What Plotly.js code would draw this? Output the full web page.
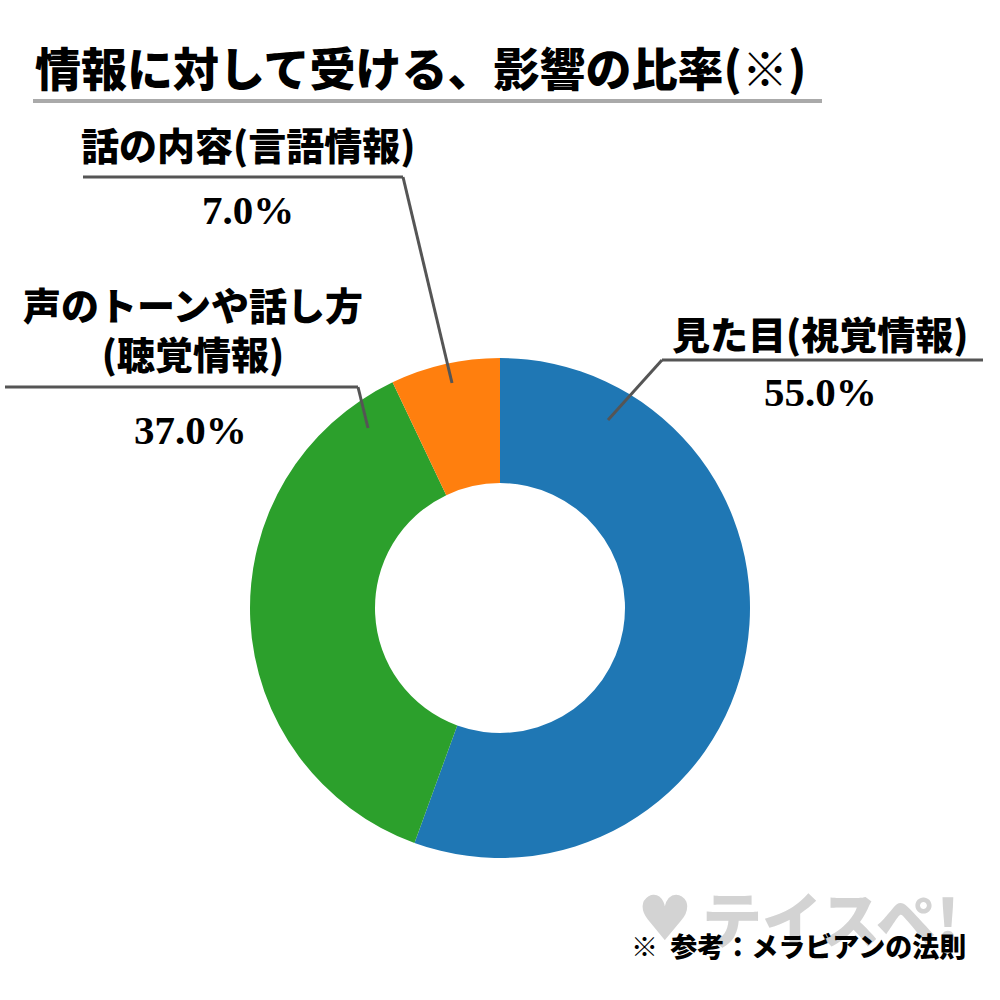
<!DOCTYPE html>
<html><head><meta charset="utf-8">
<script src="https://cdn.plot.ly/plotly-3.0.1.min.js"></script>
<style>body{margin:0;background:#fff}#c{width:1000px;height:1000px}</style>
</head><body><div id="c"></div>
<script>
const titleText = "情報に対して受ける、影響の比率(※)";
const categories = ["見た目(視覚情報)", "声のトーンや話し方<br>(聴覚情報)", "話の内容(言語情報)"];
const values = [55.0, 37.0, 7.0];
const colors = ["#1f77b4", "#2ca02c", "#ff7f0e"];
const footnote = "※  参考：メラビアンの法則";
const watermark = "テイスペ!";

const W = 1000, H = 1000;
const px = x => x / W, py = y => 1 - y / H;
const JP = "Noto Sans CJK JP";
const NUM = "Liberation Serif";

const trace = {
  type: "pie", values: values, labels: categories, sort: false, direction: "clockwise",
  rotation: 0, hole: 0.5, textinfo: "none", hoverinfo: "none",
  marker: {colors: colors, line: {width: 0}},
  domain: {x: [px(250), px(750)], y: [py(858), py(358)]}, showlegend: false
};

// label placement (layout only)
const labelPos = [
  {name: [820, 333], val: [820, 392], line: [[608, 420], [662, 360], [983, 360]]},
  {name: [193, 328], val: [190, 430], line: [[368, 428], [358, 387], [5, 387]]},
  {name: [248, 143], val: [248, 210], line: [[452, 383], [403, 177], [83, 177]]}
];

const annotations = [
  {text: titleText, x: px(33), y: py(66), xanchor: "left", yanchor: "middle",
   font: {family: JP, size: 46, color: "#000", weight: 900}},
  {text: watermark, x: px(700), y: py(916), xanchor: "left", yanchor: "middle",
   font: {family: JP, size: 60, color: "#d3d3d3", weight: 900}},
  {text: "♥", x: px(665), y: py(918), xanchor: "center", yanchor: "middle",
   font: {family: "DejaVu Sans", size: 62, color: "#d3d3d3"}},
  {text: footnote, x: px(968), y: py(945), xanchor: "right", yanchor: "middle",
   font: {family: JP, size: 27, color: "#000", weight: 900}}
];
const shapes = [
  {type: "line", xref: "paper", yref: "paper", x0: px(33), x1: px(822), y0: py(101), y1: py(101),
   line: {color: "#aaaaaa", width: 4}}
];

categories.forEach((c, i) => {
  const p = labelPos[i];
  annotations.push({text: c, x: px(p.name[0]), y: py(p.name[1]), xanchor: "center", yanchor: "middle",
    font: {family: JP, size: 38, color: "#000", weight: 900}});
  annotations.push({text: values[i].toFixed(1) + "%", x: px(p.val[0]), y: py(p.val[1]), xanchor: "center", yanchor: "middle",
    font: {family: NUM, size: 41, color: "#000", weight: 700}});
  for (let k = 0; k < p.line.length - 1; k++) {
    shapes.push({type: "line", xref: "paper", yref: "paper",
      x0: px(p.line[k][0]), y0: py(p.line[k][1]), x1: px(p.line[k+1][0]), y1: py(p.line[k+1][1]),
      line: {color: "#555555", width: 3}});
  }
});
annotations.forEach(a => { a.xref = "paper"; a.yref = "paper"; a.showarrow = false; });

Plotly.newPlot("c", [trace], {
  width: W, height: H, margin: {l: 0, r: 0, t: 0, b: 0},
  paper_bgcolor: "#fff", plot_bgcolor: "#fff",
  annotations: annotations, shapes: shapes
}, {displayModeBar: false, staticPlot: true});
</script></body></html>
